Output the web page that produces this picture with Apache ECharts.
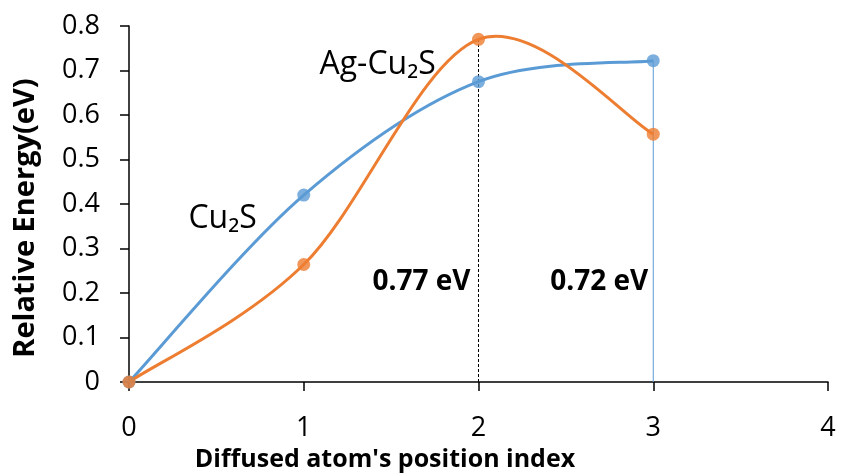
<!DOCTYPE html>
<html>
<head>
<meta charset="utf-8">
<script src="https://cdn.jsdelivr.net/npm/echarts@6/dist/echarts.min.js"></script>
<style>
  html, body { margin: 0; padding: 0; background: #fff; }
  #chart { width: 841px; height: 474px; }
</style>
</head>
<body>
<div id="chart"></div>
<script>
// Diffusion path energies along the atom position index
const positions = [0, 1, 2, 3];
const cu2sEnergy = [0, 0.42, 0.675, 0.722];
const agCu2sEnergy = [0, 0.264, 0.77, 0.557];
const yTicks = [0, 0.1, 0.2, 0.3, 0.4, 0.5, 0.6, 0.7, 0.8];
const xTicks = [0, 1, 2, 3, 4];
const barrierLabels = ['0.77 eV', '0.72 eV'];
const seriesNames = ['Cu₂S', 'Ag-Cu₂S'];

const FONT = '"Open Sans", "DejaVu Sans", sans-serif';
const BLUE = '#5B9BD5';
const ORANGE = '#ED7D31';

const pairs = (xs, ys) => xs.map((x, i) => [x, ys[i]]);

// Cubic Bezier through the points (Catmull-Rom style control points, 1/6 tension)
function smoothPathData(api, xs, ys) {
  const p = xs.map((x, i) => api.coord([x, ys[i]]));
  const n = p.length;
  let d = 'M' + p[0][0] + ',' + p[0][1];
  for (let i = 0; i < n - 1; i++) {
    const p0 = p[Math.max(i - 1, 0)];
    const p1 = p[i];
    const p2 = p[i + 1];
    const p3 = p[Math.min(i + 2, n - 1)];
    const c1 = [p1[0] + (p2[0] - p0[0]) / 6, p1[1] + (p2[1] - p0[1]) / 6];
    const c2 = [p2[0] - (p3[0] - p1[0]) / 6, p2[1] - (p3[1] - p1[1]) / 6];
    d += ' C' + c1[0] + ',' + c1[1] + ' ' + c2[0] + ',' + c2[1] + ' ' + p2[0] + ',' + p2[1];
  }
  return d;
}

function curveSeries(name, ys, color) {
  return {
    name: name,
    type: 'custom',
    data: pairs(positions, ys),
    encode: { x: 0, y: 1 },
    clip: false,
    z: 3,
    renderItem: function (params, api) {
      if (params.dataIndex !== 0) return null;
      return {
        type: 'path',
        shape: { pathData: smoothPathData(api, positions, ys) },
        style: { stroke: color, lineWidth: 3, fill: 'none' }
      };
    }
  };
}

function markerSeries(name, ys, color) {
  return {
    name: name,
    type: 'scatter',
    data: pairs(positions, ys),
    symbol: 'circle',
    symbolSize: 13,
    itemStyle: { color: color },
    z: 5
  };
}

const chart = echarts.init(document.getElementById('chart'), null, { renderer: 'canvas' });

const textLabel = (text, coord, style) => ({
  coord: coord,
  symbol: 'circle',
  symbolSize: 0,
  label: Object.assign({
    show: true,
    formatter: text,
    fontFamily: FONT,
    color: '#000'
  }, style)
});

chart.setOption({
  animation: false,
  backgroundColor: '#fff',
  grid: { left: 129, right: 13, top: 26, bottom: 92, outerBoundsMode: 'none', containLabel: false },
  xAxis: {
    type: 'value',
    min: xTicks[0],
    max: xTicks[xTicks.length - 1],
    interval: 1,
    name: "Diffused atom's position index",
    nameLocation: 'middle',
    nameGap: 52,
    nameTextStyle: {
      fontFamily: FONT, fontSize: 25, fontWeight: 'bold', color: '#000',
      padding: [0, 187, 0, 0]
    },
    axisLine: { lineStyle: { color: '#000', width: 1.5 } },
    axisTick: { show: true, length: 9, inside: false, lineStyle: { color: '#000', width: 1.5 } },
    axisLabel: { fontFamily: FONT, fontSize: 27, color: '#000', margin: 33 },
    splitLine: { show: false }
  },
  yAxis: {
    type: 'value',
    min: yTicks[0],
    max: yTicks[yTicks.length - 1],
    interval: 0.1,
    name: 'Relative Energy(eV)',
    nameLocation: 'middle',
    nameGap: 89,
    nameRotate: 90,
    nameTextStyle: {
      fontFamily: FONT, fontSize: 29, fontWeight: 'bold', color: '#000',
      padding: [0, 28, 0, 0]
    },
    axisLine: { show: true, lineStyle: { color: '#000', width: 1.5 } },
    axisTick: { show: true, length: 9, lineStyle: { color: '#000', width: 1.5 } },
    axisLabel: {
      fontFamily: FONT, fontSize: 27, color: '#000', margin: 29,
      formatter: v => String(Math.round(v * 10) / 10)
    },
    splitLine: { show: false }
  },
  series: [
    {
      // dashed guide at the Ag-Cu2S peak
      type: 'line',
      data: [[positions[2], 0], [positions[2], agCu2sEnergy[2]]],
      symbol: 'none',
      lineStyle: { color: '#000', width: 1, type: [3, 2] },
      z: 1,
      markPoint: {
        data: [textLabel(barrierLabels[0], [positions[2], 0.224],
          { fontSize: 28, fontWeight: 'bold', position: 'left', distance: 8 })]
      }
    },
    {
      // thin guide at the Cu2S maximum
      type: 'line',
      data: [[positions[3], 0], [positions[3], cu2sEnergy[3]]],
      symbol: 'none',
      lineStyle: { color: BLUE, width: 1 },
      z: 1,
      markPoint: {
        data: [textLabel(barrierLabels[1], [positions[3], 0.224],
          { fontSize: 28, fontWeight: 'bold', position: 'left', distance: 5 })]
      }
    },
    curveSeries(seriesNames[0], cu2sEnergy, BLUE),
    curveSeries(seriesNames[1], agCu2sEnergy, ORANGE),
    markerSeries(seriesNames[0], cu2sEnergy, BLUE),
    markerSeries(seriesNames[1], agCu2sEnergy, ORANGE),
    {
      // series name annotations
      type: 'line',
      data: [],
      markPoint: {
        data: [
          textLabel(seriesNames[0], [0.34, 0.366], { fontSize: 32, position: 'right', distance: 0 }),
          textLabel(seriesNames[1], [1.09, 0.713], { fontSize: 32, position: 'right', distance: 0 })
        ]
      }
    }
  ]
});
</script>
</body>
</html>
